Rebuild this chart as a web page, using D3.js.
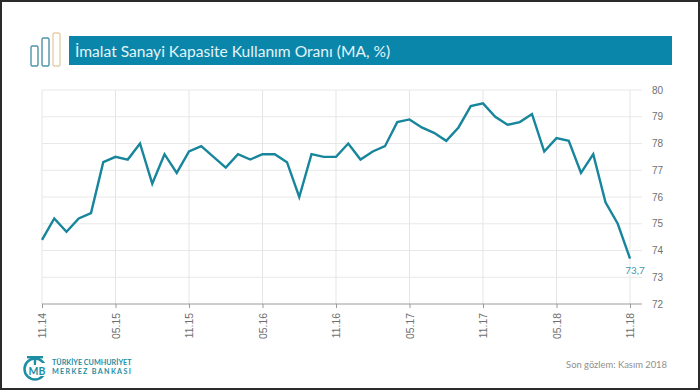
<!DOCTYPE html>
<html>
<head>
<meta charset="utf-8">
<script src="https://d3js.org/d3.v7.min.js"></script>
<style>
    html, body { margin: 0; padding: 0; background: #2b2b2b; }
    svg { display: block; font-family: Lato, sans-serif; }
</style>
</head>
<body>
<div id="chart"></div>
<script>
// months from 11.14 to 11.18
const months = [
    "11.14", "12.14", "01.15", "02.15", "03.15", "04.15", "05.15", "06.15", "07.15", "08.15",
    "09.15", "10.15", "11.15", "12.15", "01.16", "02.16", "03.16", "04.16", "05.16", "06.16",
    "07.16", "08.16", "09.16", "10.16", "11.16", "12.16", "01.17", "02.17", "03.17", "04.17",
    "05.17", "06.17", "07.17", "08.17", "09.17", "10.17", "11.17", "12.17", "01.18", "02.18",
    "03.18", "04.18", "05.18", "06.18", "07.18", "08.18", "09.18", "10.18", "11.18"
];
const values = [
    74.4, 75.2, 74.7, 75.2, 75.4, 77.3, 77.5, 77.4, 78.0, 76.5,
    77.6, 76.9, 77.7, 77.9, 77.5, 77.1, 77.6, 77.4, 77.6, 77.6,
    77.3, 76.0, 77.6, 77.5, 77.5, 78.0, 77.4, 77.7, 77.9, 78.8,
    78.9, 78.6, 78.4, 78.1, 78.6, 79.4, 79.5, 79.0, 78.7, 78.8,
    79.1, 77.7, 78.2, 78.1, 76.9, 77.6, 75.8, 75.0, 73.7
];
const xTickLabels = ["11.14", "05.15", "11.15", "05.16", "11.16", "05.17", "11.17", "05.18", "11.18"];
const yTicks = [72, 73, 74, 75, 76, 77, 78, 79, 80];
const barHeights = [20, 28, 33]; // little bars of the icon

const titleText = "İmalat Sanayi Kapasite Kullanım Oranı (MA, %)";
const sourceText = "Son gözlem: Kasım 2018";
const lastLabel = "73,7";

const width = 700, height = 390;
const teal = "#17859b";

const svg = d3.select("#chart").append("svg")
    .attr("width", width)
    .attr("height", height);

// white slide on the dark screenshot frame
svg.append("rect")
    .attr("x", 2).attr("y", 2)
    .attr("width", 696).attr("height", 386)
    .attr("fill", "#fff");

// title bar
svg.append("rect")
    .attr("x", 69).attr("y", 36)
    .attr("width", 603).attr("height", 29)
    .attr("fill", "#0a86ab");

svg.append("text")
    .attr("x", 75).attr("y", 57)
    .attr("fill", "#e4f3f7")
    .style("font-size", "15.6px")
    .text(titleText);

// icon
svg.selectAll(".icon-bar")
    .data(barHeights)
    .enter().append("rect")
    .attr("class", "icon-bar")
    .attr("x", (d, i) => 31 + i * 11)
    .attr("y", d => 66 - d)
    .attr("width", 7)
    .attr("height", d => d)
    .attr("rx", 1.5)
    .attr("fill", "none")
    .attr("stroke", (d, i) => i === 2 ? "#e6cfa8" : "#4f93a8")
    .attr("stroke-width", 1.4);

const x = d3.scalePoint().domain(months).range([42, 630]);
const y = d3.scaleLinear().domain([72, 80]).range([304, 90]);

// grid
svg.append("g")
    .selectAll("line")
    .data(yTicks.slice(1))
    .enter().append("line")
    .attr("x1", 42).attr("x2", 642)
    .attr("y1", d => y(d)).attr("y2", d => y(d))
    .attr("stroke", "#e8e8e8");

svg.append("g")
    .selectAll("line")
    .data(xTickLabels)
    .enter().append("line")
    .attr("x1", d => x(d)).attr("x2", d => x(d))
    .attr("y1", 90).attr("y2", 304)
    .attr("stroke", "#e5e5e5");

// x axis
const xAxis = svg.append("g")
    .attr("transform", "translate(0,304)")
    .call(d3.axisBottom(x).tickValues(xTickLabels).tickSize(4).tickSizeOuter(0));

xAxis.select(".domain").remove();
xAxis.append("line")
    .attr("x1", 42).attr("x2", 642)
    .attr("stroke", "#9a9a9a");
xAxis.selectAll(".tick line").attr("stroke", "#9a9a9a");
xAxis.selectAll(".tick text")
    .attr("transform", "rotate(-90)")
    .attr("x", -9).attr("y", 0).attr("dy", "0.35em")
    .attr("text-anchor", "end")
    .attr("fill", "#707070")
    .style("font-size", "10.4px");

// y axis
const yAxis = svg.append("g")
    .attr("transform", "translate(642,0)")
    .call(d3.axisRight(y).tickValues(yTicks).tickSize(0).tickPadding(10));

yAxis.select(".domain").remove();
yAxis.selectAll(".tick text")
    .attr("fill", "#707070")
    .style("font-size", "10px");

const line = d3.line()
    .x((d, i) => x(months[i]))
    .y(d => y(d));

svg.append("path")
    .datum(values)
    .attr("fill", "none")
    .attr("stroke", teal)
    .attr("stroke-width", 2.4)
    .attr("stroke-linejoin", "miter")
    .attr("d", line);

svg.append("text")
    .attr("x", x(months[months.length - 1]) + 5)
    .attr("y", y(values[values.length - 1]) + 15.5)
    .attr("text-anchor", "middle")
    .attr("fill", "#3f97ab")
    .style("font-size", "9.8px")
    .text(lastLabel);

svg.append("text")
    .attr("x", 667).attr("y", 368)
    .attr("text-anchor", "end")
    .attr("fill", "#8f8f8f")
    .style("font-size", "9.4px")
    .text(sourceText);

// logo
const logo = svg.append("g").attr("fill", "#1e8ea3");
logo.append("circle")
    .attr("cx", 35).attr("cy", 369).attr("r", 10.5)
    .attr("fill", "none")
    .attr("stroke", "#1e8ea3")
    .attr("stroke-width", 2.5);
logo.append("rect").attr("x", 27).attr("y", 356).attr("width", 16).attr("height", 2.4);
logo.append("rect").attr("x", 33.8).attr("y", 356).attr("width", 2.4).attr("height", 9);
logo.append("rect").attr("x", 36).attr("y", 363).attr("width", 11).attr("height", 13).attr("fill", "#fff");
logo.append("text")
    .attr("x", 37).attr("y", 375)
    .attr("text-anchor", "middle")
    .style("font-size", "10.5px")
    .style("font-weight", "700")
    .text("MB");
logo.append("text")
    .attr("x", 52).attr("y", 365)
    .style("font-size", "7.2px")
    .style("font-weight", "700")
    .text("TÜRKİYE CUMHURİYET");
logo.append("text")
    .attr("x", 52).attr("y", 374)
    .style("font-size", "7.2px")
    .style("font-weight", "700")
    .style("letter-spacing", "1.3px")
    .text("MERKEZ BANKASI");
</script>
</body>
</html>
